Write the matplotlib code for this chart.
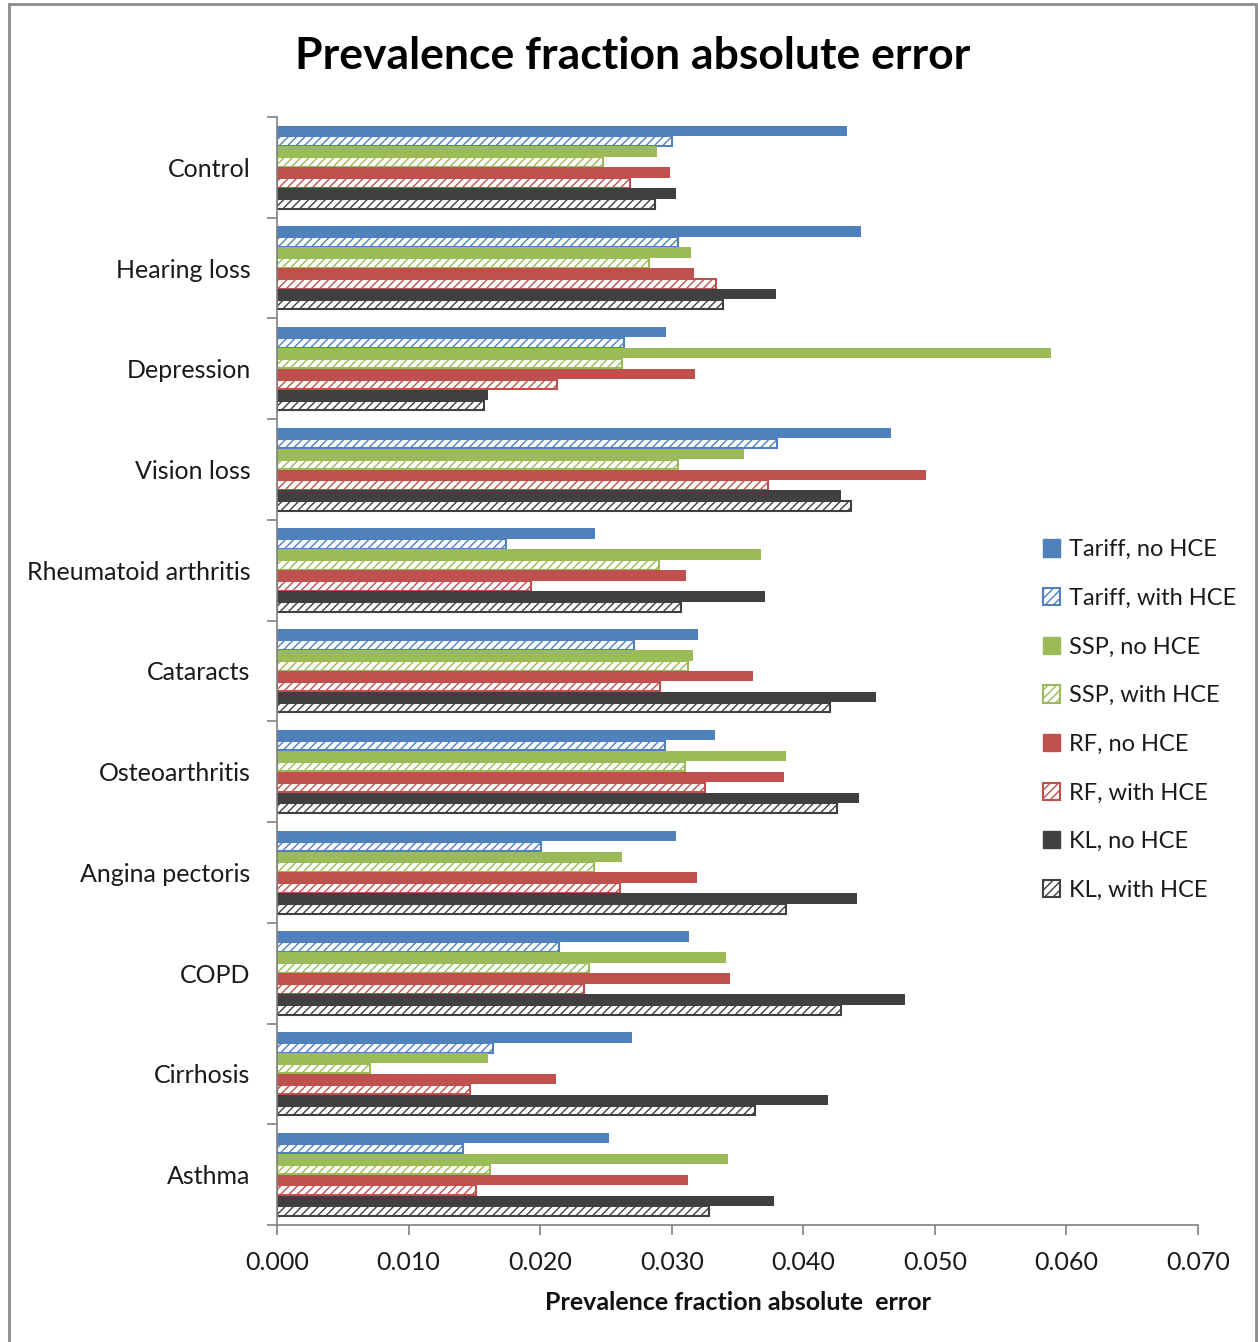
import numpy as np
import matplotlib
matplotlib.use("Agg")
import matplotlib.pyplot as plt
from matplotlib.patches import Rectangle, Patch

plt.rcParams['font.family'] = ['Lato', 'DejaVu Sans']
plt.rcParams['hatch.linewidth'] = 1.0

categories = ['Control', 'Hearing loss', 'Depression', 'Vision loss',
              'Rheumatoid arthritis', 'Cataracts', 'Osteoarthritis',
              'Angina pectoris', 'COPD', 'Cirrhosis', 'Asthma']

series_names = ['Tariff, no HCE', 'Tariff, with HCE', 'SSP, no HCE', 'SSP, with HCE',
                'RF, no HCE', 'RF, with HCE', 'KL, no HCE', 'KL, with HCE']

tariff_no = [0.0433, 0.0444, 0.0296, 0.0467, 0.0242, 0.0320, 0.0333, 0.0303, 0.0313, 0.0270, 0.0252]
tariff_with = [0.0300, 0.0305, 0.0264, 0.0380, 0.0174, 0.0271, 0.0295, 0.0201, 0.0214, 0.0164, 0.0141]
ssp_no = [0.0289, 0.0315, 0.0588, 0.0355, 0.0368, 0.0316, 0.0387, 0.0262, 0.0341, 0.0160, 0.0343]
ssp_with = [0.0248, 0.0283, 0.0262, 0.0305, 0.0290, 0.0312, 0.0310, 0.0241, 0.0237, 0.0071, 0.0162]
rf_no = [0.0299, 0.0317, 0.0318, 0.0493, 0.0311, 0.0362, 0.0385, 0.0319, 0.0344, 0.0212, 0.0312]
rf_with = [0.0268, 0.0334, 0.0213, 0.0373, 0.0193, 0.0291, 0.0325, 0.0261, 0.0233, 0.0147, 0.0151]
kl_no = [0.0303, 0.0379, 0.0160, 0.0429, 0.0371, 0.0455, 0.0442, 0.0441, 0.0477, 0.0419, 0.0378]
kl_with = [0.0287, 0.0339, 0.0157, 0.0436, 0.0307, 0.0420, 0.0426, 0.0387, 0.0429, 0.0363, 0.0328]

all_series = [tariff_no, tariff_with, ssp_no, ssp_with, rf_no, rf_with, kl_no, kl_with]
colors = ['#4F81BD', '#4F81BD', '#9BBB59', '#9BBB59', '#C0504D', '#C0504D', '#404040', '#404040']
hatched = [False, True, False, True, False, True, False, True]

fig = plt.figure(figsize=(12.58, 13.42), dpi=100)
ax = fig.add_axes([0.2202, 0.0872, 0.7321, 0.8256])

n = len(all_series)
group_w = 0.83
h = group_w / n
y = np.arange(len(categories))

# solid bars for "no HCE", white hatched bars for "with HCE"
for j, (vals, col, hat) in enumerate(zip(all_series, colors, hatched)):
    pos = y - group_w / 2 + (j + 0.5) * h
    if hat:
        ax.barh(pos, vals, height=h * 0.92, facecolor='white', edgecolor=col,
                hatch='////', linewidth=1.5)
    else:
        ax.barh(pos, vals, height=h, color=col, linewidth=0)

ax.set_ylim(len(categories) - 0.5, -0.5)
ax.set_xlim(0, 0.070)
ax.set_xticks(np.arange(0, 0.0701, 0.01))
ax.set_xticklabels([f'{v:.3f}' for v in np.arange(0, 0.0701, 0.01)])
ax.set_yticks(y)
ax.set_yticklabels(categories)
ax.set_yticks(np.arange(-0.5, len(categories), 1), minor=True)

ax.tick_params(axis='y', which='major', length=0, pad=19, labelsize=18, labelcolor='#1a1a1a')
ax.tick_params(axis='y', which='minor', length=7, color='#808080', width=1.2)
ax.tick_params(axis='x', which='major', length=7, color='#808080', width=1.2,
               pad=12, labelsize=18, labelcolor='#1a1a1a')

for s in ['top', 'right']:
    ax.spines[s].set_visible(False)
for s in ['left', 'bottom']:
    ax.spines[s].set_color('#808080')
    ax.spines[s].set_linewidth(1.2)

ax.set_xlabel('Prevalence fraction absolute  error', fontsize=18, fontweight='bold',
              labelpad=12, color='#111111')

fig.text(0.503, 0.958, 'Prevalence fraction absolute error', ha='center', va='center',
         fontsize=32, fontweight='bold', color='black')

handles = []
for name, col, hat in zip(series_names, colors, hatched):
    if hat:
        handles.append(Patch(facecolor='white', edgecolor=col, hatch='////', linewidth=1.5, label=name))
    else:
        handles.append(Patch(facecolor=col, edgecolor=col, label=name))
fig.legend(handles=handles, loc='upper left', bbox_to_anchor=(0.812, 0.614),
           frameon=False, fontsize=17, labelspacing=1.17, handlelength=0.75,
           handleheight=0.75, handletextpad=0.35, labelcolor='#1a1a1a')

# outer grey frame like the exported chart border
fig.patches.append(Rectangle((9 / 1258, -0.01), (1256 - 9) / 1258, 1.01 - 4 / 1342,
                             transform=fig.transFigure, fill=False,
                             edgecolor='#8c8c8c', linewidth=2))

fig.savefig('out.png', dpi=100, facecolor='white')
